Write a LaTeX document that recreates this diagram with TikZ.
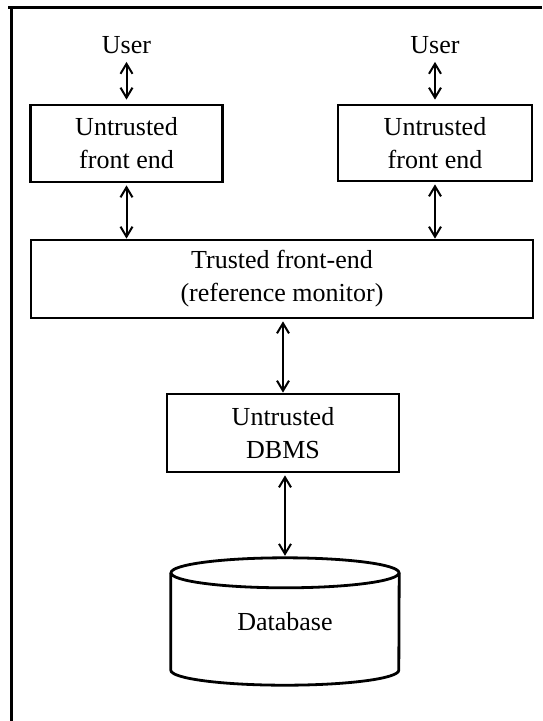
\documentclass[tikz,border=0pt]{standalone}
\usepackage{fontspec}
\setmainfont{Liberation Serif}
\usetikzlibrary{arrows.meta,calc}

\tikzset{
  txt/.style={font=\fontsize{26}{33}\selectfont, align=center},
  box/.style={txt, draw, line width=2.8pt, inner sep=0pt},
  label/.style={txt, inner sep=8pt},
  dbl/.style={line width=2pt, {Straight Barb[length=10pt,width=12pt,line width=2pt]}-{Straight Barb[length=10pt,width=12pt,line width=2pt]}},
  frame/.style={line width=3pt},
  drum/.style={line width=2.8pt}
}

\begin{document}
\begin{tikzpicture}[x=1pt,y=1pt]
  \useasboundingbox (0,0) rectangle (542,-721);

  % outer frame (top and left rules)
  \draw[frame] (8,-7) -- (542,-7);
  \draw[frame] (11,-7) -- (11,-721);

  % users and untrusted front ends
  \node[label] (user1) at (126.5,-45) {User};
  \node[label] (user2) at (435,-45) {User};
  \node[box, minimum width=192, minimum height=77] (ufe1) at (126.5,-143.5) {Untrusted\\front end};
  \node[box, minimum width=194, minimum height=76] (ufe2) at (435,-143) {Untrusted\\front end};

  % trusted front end
  \node[box, minimum width=502, minimum height=78] (tfe) at (282,-279) {Trusted front-end\\(reference monitor)};

  % untrusted DBMS
  \node[box, minimum width=232, minimum height=78] (dbms) at (283,-433) {Untrusted\\DBMS};

  % database drum
  \node[txt, minimum width=228, minimum height=127, inner sep=0pt] (db) at (285,-621.5) {Database};
  \draw[drum] ($(db.north west)+(0,-15)$) -- ($(db.south west)+(0,15)$)
    arc[start angle=180, end angle=360, x radius=114, y radius=15]
    -- ($(db.north east)+(0,-15)$);
  \draw[drum] ($(db.north)+(0,-15)$) ellipse [x radius=114, y radius=15];

  % connectors
  \draw[dbl, shorten >=4pt] (user1) -- (ufe1);
  \draw[dbl, shorten >=4pt] (user2) -- (ufe2);
  \draw[dbl, shorten <=2pt] (ufe1.south) -- (ufe1.south |- tfe.north);
  \draw[dbl, shorten <=2pt] (ufe2.south) -- (ufe2.south |- tfe.north);
  \draw[dbl, shorten <=2pt] (dbms.north |- tfe.south) -- (dbms.north);
  \draw[dbl, shorten <=2pt, shorten >=2pt] (db.north |- dbms.south) -- (db.north);
\end{tikzpicture}
\end{document}
